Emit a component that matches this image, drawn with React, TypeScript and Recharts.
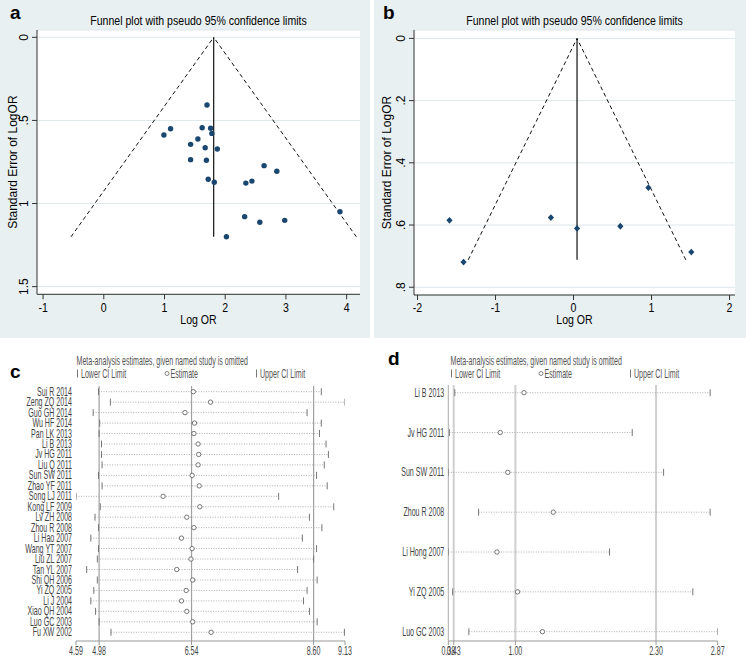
import React from 'react';
import { ScatterChart, Scatter, XAxis, YAxis, CartesianGrid, ReferenceLine, Customized } from 'recharts';

const FONT = '"Liberation Sans", Arial, Helvetica, sans-serif';
const NAVY = '#1a476f';
const PANEL_BG = '#e9f0f2';

// ---------- Panel a: funnel plot ----------
const aLogOR = [1.70, 1.10, 0.99, 1.62, 1.76, 1.78, 1.55, 1.43, 1.67, 1.87, 1.43, 1.69, 2.64, 2.85, 1.72, 1.82, 2.34, 2.44, 2.32, 2.57, 2.98, 2.02, 3.89];
const aSE = [0.407, 0.55, 0.588, 0.544, 0.547, 0.578, 0.612, 0.644, 0.664, 0.672, 0.736, 0.74, 0.772, 0.806, 0.854, 0.872, 0.877, 0.865, 1.079, 1.113, 1.101, 1.2, 1.049];
const aXTicks = [-1, 0, 1, 2, 3, 4];
const aYTicks = [0, 0.5, 1, 1.5];
const aYTickLabels = ['0', '.5', '1', '1.5'];
const aPooled = 1.81;
const aFunnelSE = 1.2;
const aFunnelLow = -0.54;
const aFunnelHigh = 4.16;

// ---------- Panel b: funnel plot ----------
const bLogOR = [-1.59, -1.41, -0.29, 0.045, 0.6, 0.96, 1.51];
const bSE = [0.585, 0.719, 0.576, 0.611, 0.604, 0.48, 0.687];
const bXTicks = [-2, -1, 0, 1, 2];
const bYTicks = [0, 0.2, 0.4, 0.6, 0.8];
const bYTickLabels = ['0', '.2', '.4', '.6', '.8'];
const bPooled = 0.045;
const bFunnelSE = 0.712;
const bFunnelLow = -1.35;
const bFunnelHigh = 1.44;

// ---------- Panel c: influence analysis ----------
const cStudies = ['Sui R 2014', 'Zeng ZQ 2014', 'Guo GH 2014', 'Wu HF 2014', 'Pan LK 2013', 'Li B 2013', 'Jv HG 2011', 'Liu Q 2011', 'Sun SW 2011', 'Zhao YF 2011', 'Song LJ 2011', 'Kong LF 2009', 'Lv ZH 2008', 'Zhou R 2008', 'Li Hao 2007', 'Wang YT 2007', 'Liu ZL 2007', 'Tan YL 2007', 'Shi QH 2006', 'Yi ZQ 2005', 'Li J 2004', 'Xiao QH 2004', 'Luo GC 2003', 'Fu XW 2002'];
const cLower = [4.97, 5.17, 4.88, 4.99, 4.98, 5.02, 5.02, 5.03, 4.97, 5.03, 4.59, 5.00, 4.91, 4.97, 4.84, 4.97, 4.95, 4.77, 4.95, 4.89, 4.84, 4.92, 4.98, 5.18];
const cEst = [6.57, 6.86, 6.43, 6.59, 6.58, 6.65, 6.66, 6.65, 6.55, 6.67, 6.06, 6.68, 6.46, 6.58, 6.37, 6.55, 6.53, 6.29, 6.56, 6.45, 6.37, 6.46, 6.56, 6.87];
const cUpper = [8.73, 9.13, 8.49, 8.73, 8.70, 8.81, 8.85, 8.78, 8.65, 8.83, 8.01, 8.94, 8.53, 8.74, 8.41, 8.65, 8.60, 8.33, 8.66, 8.49, 8.43, 8.53, 8.66, 9.12];
const cTicks = [4.59, 4.98, 6.54, 8.60, 9.13];
const cRefLines = [4.98, 6.54, 8.60];

// ---------- Panel d: influence analysis ----------
const dStudies = ['Li B 2013', 'Jv HG 2011', 'Sun SW 2011', 'Zhou R 2008', 'Li Hong 2007', 'Yi ZQ 2005', 'Luo GC 2003'];
const dLower = [0.44, 0.39, 0.38, 0.66, 0.38, 0.42, 0.57];
const dEst = [1.08, 0.86, 0.93, 1.35, 0.83, 1.02, 1.25];
const dUpper = [2.80, 2.08, 2.37, 2.80, 1.87, 2.64, 2.87];
const dTicks = [0.38, 0.43, 1.00, 2.30, 2.87];
const dRefLines = [0.43, 1.00, 2.30];

const TITLE_FUNNEL = 'Funnel plot with pseudo 95% confidence limits';
const TITLE_META = 'Meta-analysis estimates, given named study is omitted';

type TProps = {
  x: number; y: number; children: React.ReactNode; size?: number; sx?: number;
  anchor?: 'start' | 'middle' | 'end'; fill?: string; weight?: string | number; rotate?: number;
};
function T({ x, y, children, size = 12, sx = 1, anchor = 'middle', fill = '#000', weight = 'normal', rotate = 0 }: TProps) {
  return (
    <text
      transform={`translate(${x} ${y}) rotate(${rotate}) scale(${sx} 1)`}
      textAnchor={anchor}
      fontSize={size}
      fontFamily={FONT}
      fill={fill}
      fontWeight={weight}
    >
      {children}
    </text>
  );
}

const DotShape = (p: any) => <circle cx={p.cx} cy={p.cy} r={2.7} fill={NAVY} />;
const DiamondShape = (p: any) => (
  <polygon
    points={`${p.cx},${p.cy - 3.4} ${p.cx + 3.1},${p.cy} ${p.cx},${p.cy + 3.4} ${p.cx - 3.1},${p.cy}`}
    fill={NAVY}
  />
);

type FunnelProps = {
  left: number; width: number; height: number;
  xs: number[]; ys: number[];
  xDomain: [number, number]; yDomain: [number, number];
  xTicks: number[]; yTicks: number[]; yTickLabels: string[];
  pooled: number; seMax: number; lo: number; hi: number;
  shape: any; letter: string; letterX: number;
  plot: { l: number; r: number; t: number; b: number };
  yTickX: number; yLabelX: number;
};

function FunnelPanel(p: FunnelProps) {
  const data = p.xs.map((x, i) => ({ x, y: p.ys[i] }));
  const cx = (p.plot.l + p.plot.r) / 2;
  const cy = (p.plot.t + p.plot.b) / 2;
  return (
    <div style={{ position: 'absolute', left: p.left, top: 0, width: p.width, height: p.height, background: PANEL_BG }}>
      <ScatterChart
        width={p.width}
        height={p.height}
        margin={{ top: p.plot.t, right: p.width - p.plot.r, bottom: 0, left: 0 }}
      >
        <CartesianGrid vertical={false} stroke="#dde7ea" fill="#ffffff" fillOpacity={1} />
        <XAxis
          type="number"
          dataKey="x"
          domain={p.xDomain}
          ticks={p.xTicks}
          interval={0}
          allowDataOverflow
          height={p.height - p.plot.b}
          tickSize={5}
          axisLine={{ stroke: '#333' }}
          tickLine={{ stroke: '#333' }}
          tick={(t: any) => (
            <T x={t.x} y={312} size={12} sx={0.88}>{String(t.payload.value)}</T>
          )}
        />
        <YAxis
          type="number"
          dataKey="y"
          domain={p.yDomain}
          ticks={p.yTicks}
          interval={0}
          reversed
          allowDataOverflow
          width={p.plot.l}
          tickSize={5}
          axisLine={{ stroke: '#333' }}
          tickLine={{ stroke: '#333' }}
          tick={(t: any) => (
            <T x={p.yTickX} y={t.y} size={12} rotate={-90}>
              {p.yTickLabels[p.yTicks.indexOf(t.payload.value)] ?? ''}
            </T>
          )}
        />
        <ReferenceLine segment={[{ x: p.lo, y: p.seMax }, { x: p.pooled, y: 0 }]} stroke="#111" strokeDasharray="4 3" strokeWidth={1} />
        <ReferenceLine segment={[{ x: p.hi, y: p.seMax }, { x: p.pooled, y: 0 }]} stroke="#111" strokeDasharray="4 3" strokeWidth={1} />
        <ReferenceLine segment={[{ x: p.pooled, y: 0 }, { x: p.pooled, y: p.seMax }]} stroke="#111" strokeWidth={1.2} />
        <Scatter data={data} shape={p.shape} isAnimationActive={false} />
        <Customized
          component={() => (
            <g>
              <T x={p.letterX} y={19} size={19} weight="bold" anchor="start">{p.letter}</T>
              <T x={cx} y={25} size={12} sx={0.88}>{TITLE_FUNNEL}</T>
              <T x={cx} y={324} size={12} sx={0.88}>Log OR</T>
              <T x={p.yLabelX} y={cy} size={12} rotate={-90}>Standard Error of LogOR</T>
            </g>
          )}
        />
      </ScatterChart>
    </div>
  );
}

const CIBar = (p: any) => (
  <line x1={p.cx} x2={p.cx} y1={p.cy - 3.5} y2={p.cy + 3.5} stroke="#777" strokeWidth={1} />
);
const EstCircle = (p: any) => (
  <circle cx={p.cx} cy={p.cy} r={2.2} fill="#fff" stroke="#555" strokeWidth={0.8} />
);

type ForestProps = {
  left: number; top: number; width: number; height: number;
  names: string[]; lower: number[]; est: number[]; upper: number[];
  xTicks: number[]; refLines: number[]; xDomain: [number, number]; yDomain: [number, number];
  plot: { l: number; r: number; t: number; b: number };
  letter: string; letterX: number; letterY: number;
  refStroke: string; refWidth: number; showYLine: boolean;
};

function ForestPanel(p: ForestProps) {
  const rows = p.names.map((n, i) => ({ i, lo: p.lower[i], est: p.est[i], hi: p.upper[i] }));
  const rowTicks = p.names.map((_, i) => i);
  const sx = 0.59;
  const fs = 12;
  return (
    <div style={{ position: 'absolute', left: p.left, top: p.top, width: p.width, height: p.height, background: '#fff' }}>
      <ScatterChart
        width={p.width}
        height={p.height}
        margin={{ top: p.plot.t, right: p.width - p.plot.r, bottom: 0, left: 0 }}
      >
        <XAxis
          type="number"
          dataKey="x"
          domain={p.xDomain}
          ticks={p.xTicks}
          interval={0}
          allowDataOverflow
          height={p.height - p.plot.b}
          tickSize={4}
          axisLine={{ stroke: '#999' }}
          tickLine={{ stroke: '#999' }}
          tick={(t: any) => (
            <T x={t.x} y={p.height - 1.5} size={fs} sx={sx} fill="#444">{Number(t.payload.value).toFixed(2)}</T>
          )}
        />
        <YAxis
          type="number"
          dataKey="y"
          domain={p.yDomain}
          ticks={rowTicks}
          interval={0}
          reversed
          allowDataOverflow
          width={p.plot.l}
          axisLine={p.showYLine ? { stroke: '#aaa' } : false}
          tickLine={false}
          tick={(t: any) => (
            <T x={p.plot.l - 4} y={t.y + 4} size={fs} sx={sx} anchor="end" fill="#444">
              {p.names[t.payload.value] ?? ''}
            </T>
          )}
        />
        {p.refLines.map((v) => (
          <ReferenceLine key={'ref' + v} x={v} stroke={p.refStroke} strokeWidth={p.refWidth} />
        ))}
        {rows.map((r) => (
          <ReferenceLine
            key={'ci' + r.i}
            segment={[{ x: r.lo, y: r.i }, { x: r.hi, y: r.i }]}
            stroke="#9a9a9a"
            strokeDasharray="1 1.5"
            strokeWidth={0.8}
          />
        ))}
        <Scatter data={rows.map((r) => ({ x: r.lo, y: r.i }))} shape={CIBar} isAnimationActive={false} />
        <Scatter data={rows.map((r) => ({ x: r.hi, y: r.i }))} shape={CIBar} isAnimationActive={false} />
        <Scatter data={rows.map((r) => ({ x: r.est, y: r.i }))} shape={EstCircle} isAnimationActive={false} />
        <Customized
          component={() => (
            <g>
              <T x={p.letterX} y={p.letterY} size={19} weight="bold" anchor="start">{p.letter}</T>
              <T x={76.5} y={26.5} size={fs} sx={sx} anchor="start" fill="#555">{TITLE_META}</T>
              <line x1={77.5} x2={77.5} y1={31.5} y2={39.5} stroke="#777" strokeWidth={1} />
              <T x={81} y={39.5} size={fs} sx={sx} anchor="start" fill="#555">Lower CI Limit</T>
              <circle cx={167} cy={35.5} r={2} fill="#fff" stroke="#666" strokeWidth={0.8} />
              <T x={170.5} y={39.5} size={fs} sx={sx} anchor="start" fill="#555">Estimate</T>
              <line x1={256.5} x2={256.5} y1={31.5} y2={39.5} stroke="#777" strokeWidth={1} />
              <T x={260} y={39.5} size={fs} sx={sx} anchor="start" fill="#555">Upper CI Limit</T>
            </g>
          )}
        />
      </ScatterChart>
    </div>
  );
}

export default function App() {
  return (
    <div style={{ position: 'absolute', left: 0, top: 0, width: 746, height: 656, background: '#fff', overflow: 'hidden' }}>
      <FunnelPanel
        left={0} width={370} height={338}
        xs={aLogOR} ys={aSE}
        xDomain={[-1.1, 4.22]} yDomain={[-0.044, 1.546]}
        xTicks={aXTicks} yTicks={aYTicks} yTickLabels={aYTickLabels}
        pooled={aPooled} seMax={aFunnelSE} lo={aFunnelLow} hi={aFunnelHigh}
        shape={DotShape} letter="a" letterX={10}
        plot={{ l: 37, r: 360, t: 30, b: 294.3 }}
        yTickX={28} yLabelX={17}
      />
      <FunnelPanel
        left={374} width={372} height={338}
        xs={bLogOR} ys={bSE}
        xDomain={[-2.045, 2.07]} yDomain={[-0.027, 0.825]}
        xTicks={bXTicks} yTicks={bYTicks} yTickLabels={bYTickLabels}
        pooled={bPooled} seMax={bFunnelSE} lo={bFunnelLow} hi={bFunnelHigh}
        shape={DiamondShape} letter="b" letterX={9}
        plot={{ l: 40, r: 361, t: 30, b: 295 }}
        yTickX={31} yLabelX={17}
      />
      <ForestPanel
        left={0} top={338} width={372} height={318}
        names={cStudies} lower={cLower} est={cEst} upper={cUpper}
        xTicks={cTicks} refLines={cRefLines}
        xDomain={[4.59, 9.13]} yDomain={[-0.545, 23.834]}
        plot={{ l: 76, r: 345, t: 48, b: 303 }}
        letter="c" letterX={10} letterY={40}
        refStroke="#a0a0a0" refWidth={1.2} showYLine={false}
      />
      <ForestPanel
        left={374} top={338} width={372} height={318}
        names={dStudies} lower={dLower} est={dEst} upper={dUpper}
        xTicks={dTicks} refLines={dRefLines}
        xDomain={[0.38, 2.87]} yDomain={[-0.193, 6.234]}
        plot={{ l: 74.3, r: 343.7, t: 47, b: 303 }}
        letter="d" letterX={14} letterY={27}
        refStroke="#cfcfcf" refWidth={2} showYLine={true}
      />
    </div>
  );
}
